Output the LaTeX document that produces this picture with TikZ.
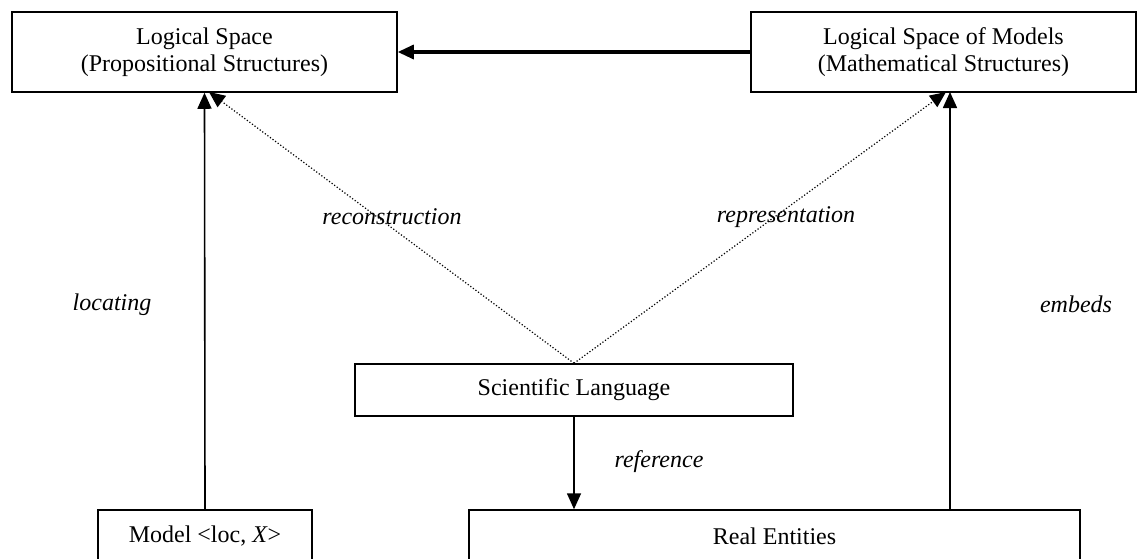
\documentclass[tikz,border=0pt]{standalone}
\usepackage{fontspec}
\setmainfont{Liberation Serif}
\usetikzlibrary{arrows.meta}
\begin{document}
\begin{tikzpicture}[x=1pt,y=-1pt,
  box/.style={draw,line width=1.5pt,inner sep=0pt,align=center,font=\fontsize{24}{27}\selectfont},
  lbl/.style={font=\fontsize{24}{27}\selectfont\itshape,inner sep=0pt},
  arr/.style={line width=1.6pt,-{Triangle[length=16pt,width=14pt]}},
  dots/.style={dotted,line width=1.2pt,-{Triangle[length=16pt,width=14pt]}}]
\useasboundingbox (0,0) rectangle (1138,558);
\clip (0,0) rectangle (1138,558);
\node[box,minimum width=385pt,minimum height=80pt] (A) at (204.5,52) {Logical Space\\(Propositional Structures)};
\node[box,minimum width=385pt,minimum height=80pt] (B) at (943.5,52) {Logical Space of Models\\(Mathematical Structures)};
\node[box,minimum width=438pt,minimum height=52pt] (SL) at (574,390) {Scientific Language};
\node[box,minimum width=214pt,minimum height=52pt] (M) at (205,536) {Model <loc, \textit{X}>};
\node[box,minimum width=611pt,minimum height=52pt] (R) at (774.5,536) {Real Entities};
\coordinate (Bin) at (950,92);
\coordinate (Rout) at (950,510);
\coordinate (Ad) at (209,92);
\coordinate (Bd) at (946,92);
\draw[line width=3.2pt,-{Triangle[length=16pt,width=14pt]}] (B.west) -- (A.east);
\draw[arr] (M.north) -- (A.south);
\draw[arr] (Rout) -- (Bin);
\draw[arr] (SL.south) -- (SL.south |- R.north);
\draw[dots] (SL.north) -- (Ad);
\draw[dots] (SL.north) -- (Bd);
\node[lbl] (l1) at (112,305) {locating};
\node[lbl] (l2) at (392,217) {reconstruction};
\node[lbl] (l3) at (786,217) {representation};
\node[lbl] (l4) at (659,462) {reference};
\node[lbl] (l5) at (1076,304) {embeds};
\end{tikzpicture}
\end{document}
